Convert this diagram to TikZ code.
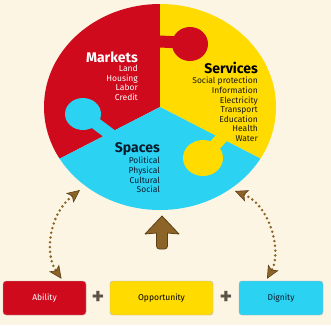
\documentclass[tikz,border=0pt]{standalone}
\usepackage{fontspec}
\setmainfont{Fira Sans}
\usetikzlibrary{positioning, arrows.meta, calc}
\definecolor{bgcream}{HTML}{FDF5E3}
\definecolor{pzred}{HTML}{CF0A1D}
\definecolor{pzyellow}{HTML}{FFDB00}
\definecolor{pzcyan}{HTML}{2BD2F2}
\definecolor{txtnavy}{HTML}{0B1B2E}
\definecolor{arrbrown}{HTML}{8C6428}
\definecolor{arrdark}{HTML}{5C4018}
\definecolor{plusgray}{HTML}{5E5248}
\tikzset{
  title/.style={font=\fontsize{14}{14}\selectfont\bfseries, anchor=base east, inner sep=0pt},
  itemlist/.style={font=\fontsize{8.5}{9.6}\selectfont, align=right, anchor=north east, inner sep=0pt},
  valuebox/.style={rectangle, rounded corners=3pt, minimum height=34pt, font=\fontsize{8.5}{8.5}\selectfont, draw=white!70!black, line width=0.4pt},
  knobneck/.style={line width=12pt},
  plussign/.style={font=\fontsize{24}{24}\selectfont\bfseries, text=plusgray, inner sep=0pt},
  dotarrow/.style={arrbrown, line width=2.8pt, line cap=round, dash pattern=on 0pt off 4.8pt,
    >={Stealth[length=13pt, width=12pt, inset=3pt, line width=0.6pt, fill=arrbrown, color=arrdark]}, <->}
}
\begin{document}
\begin{tikzpicture}[x=1pt, y=-1pt]
  \useasboundingbox (0,0) rectangle (331,325);
  \fill[bgcream] (0,0) rectangle (331,325);

  % --- Puzzle circle ---
  \begin{scope}
    \clip (160,107) ellipse [x radius=116, y radius=103];
    \fill[pzred] (160,107) -- (160,-10) -- (-10,-10) -- (-10,194.5) -- cycle;
    \fill[pzyellow] (160,107) -- (160,-10) -- (341,-10) -- (341,200) -- cycle;
    \fill[pzcyan] (160,107) -- (-10,194.5) -- (-10,335) -- (341,335) -- (341,200) -- cycle;
    % knobs
    \draw[knobneck, pzred] (190,43) -- (150,41);
    \fill[pzred] (190,44) ellipse [x radius=18, y radius=17];
    \draw[knobneck, pzcyan] (83,114) -- (118,140);
    \fill[pzcyan] (83,114) ellipse [x radius=18, y radius=16];
    \draw[knobneck, pzyellow] (203,158) -- (228,131);
    \fill[pzyellow] (203,158) ellipse [x radius=20, y radius=18];
  \end{scope}

  % --- Texts of the three pieces ---
  \node (markets) [title, text=white] at (138,62) {Markets};
  \node (marketlist) [itemlist, text=white] at (138,65) {Land\\Housing\\Labor\\Credit};
  \node (services) [title, text=black] at (258,73) {Services};
  \node (servicelist) [itemlist, text=black!90] at (258,77) {Social protection\\Information\\Electricity\\Transport\\Education\\Health\\Water};
  \node (spaces) [title, text=txtnavy] at (160,152) {Spaces};
  \node (spacelist) [itemlist, text=txtnavy] at (160,157) {Political\\Physical\\Cultural\\Social};

  % --- Bottom boxes ---
  \node (ability) [valuebox, fill=pzred, text=white, minimum width=83pt] at (44.5,298) {Ability};
  \node (opportunity) [valuebox, fill=pzyellow, text=black, minimum width=103pt] at (161.5,298) {Opportunity};
  \node (dignity) [valuebox, fill=pzcyan, text=txtnavy, minimum width=84pt] at (281,298) {Dignity};
  \node (plusa) [plussign] at ($(ability.east)!0.5!(opportunity.west)$) {+};
  \node (plusb) [plussign] at ($(opportunity.east)!0.5!(dignity.west)$) {+};

  % --- Arrows ---
  \filldraw[fill=arrbrown, draw=arrdark, line width=0.8pt, line join=round]
    (162,216) -- (179,234) -- (167.5,233) [rounded corners=3pt] -- (167.5,249) -- (156.5,249) [sharp corners] -- (156.5,233) -- (145,234) -- cycle;
  \coordinate (spacesleft) at (80,190);
  \coordinate (spacesright) at (235,191);
  \draw[dotarrow] (spacesleft) .. controls (48,215) and (45,255) .. ([xshift=17pt, yshift=2pt]ability.north);
  \draw[dotarrow] (spacesright) .. controls (270,205) and (282,252) .. ([xshift=-14pt, yshift=2pt]dignity.north);
\end{tikzpicture}
\end{document}
